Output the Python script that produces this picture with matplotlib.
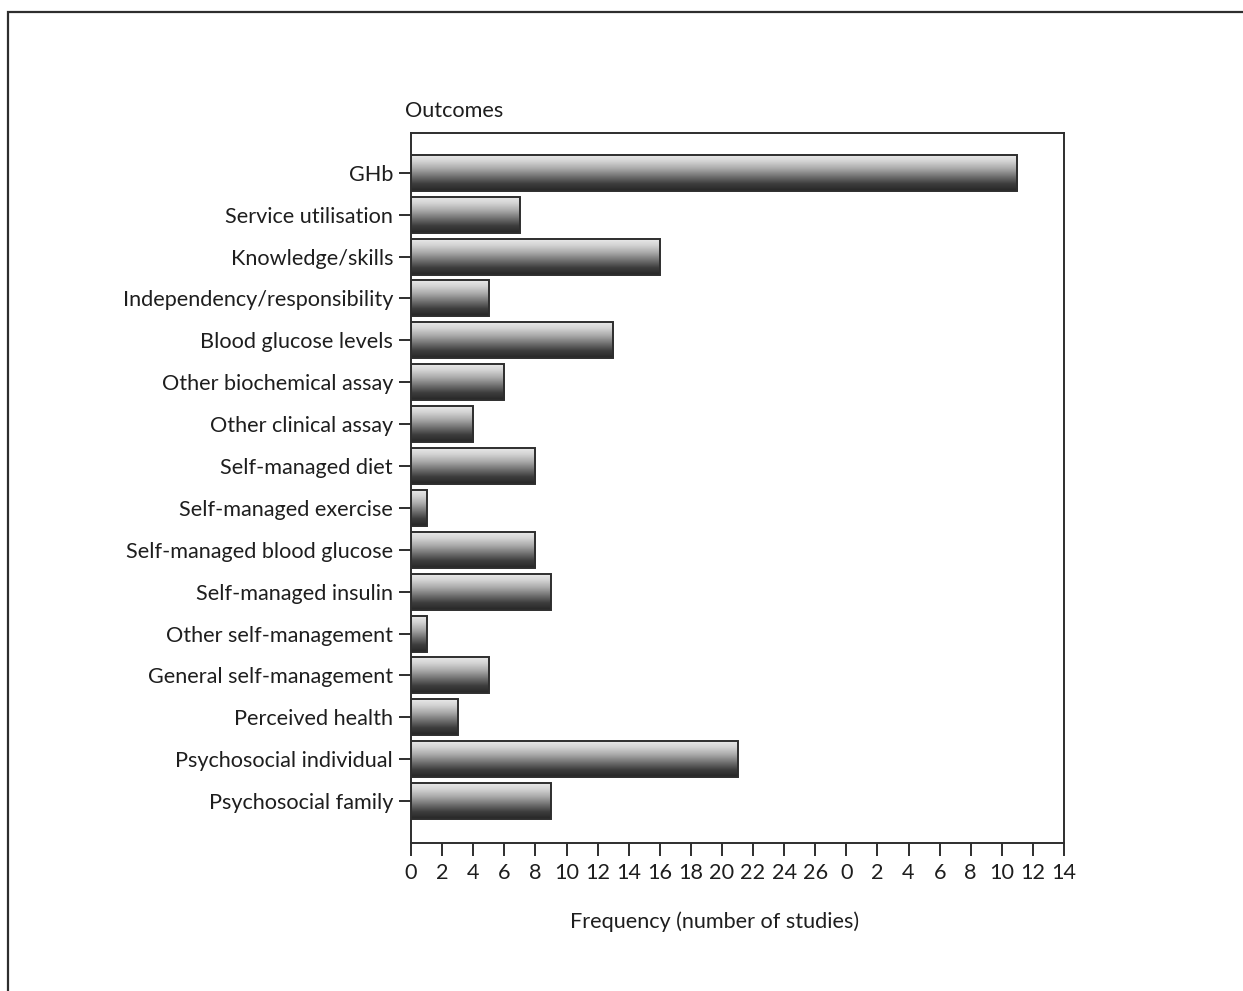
import numpy as np
import matplotlib.pyplot as plt
from matplotlib.colors import LinearSegmentedColormap
from matplotlib.patches import Rectangle

plt.rcParams['font.family'] = ['Lato', 'DejaVu Sans']

outcomes = ['GHb', 'Service utilisation', 'Knowledge/skills',
            'Independency/responsibility', 'Blood glucose levels',
            'Other biochemical assay', 'Other clinical assay',
            'Self-managed diet', 'Self-managed exercise',
            'Self-managed blood glucose', 'Self-managed insulin',
            'Other self-management', 'General self-management',
            'Perceived health', 'Psychosocial individual',
            'Psychosocial family']
n_studies = [39, 7, 16, 5, 13, 6, 4, 8, 1, 8, 9, 1, 5, 3, 21, 9]

# the frequency scale runs 0-26 and then restarts 0-14
tick_pos = list(range(0, 43, 2))
tick_labels = [str(v) for v in range(0, 27, 2)] + [str(v) for v in range(0, 15, 2)]

ink = '#2e2e2e'
txt = '#1e1e1e'
fs = 15.6
shade = LinearSegmentedColormap.from_list(
    'shade', ['#ededed', '#d2d2d2', '#a8a8a8', '#727272', '#3e3e3e', '#262626'])

fig = plt.figure(figsize=(12.43, 9.91), dpi=100)
ax = fig.add_axes([0.3307, 0.1493, 0.5253, 0.7165])

y = np.arange(len(outcomes))
bars = ax.barh(y, n_studies, height=0.86, color='none', edgecolor=ink,
               linewidth=1.4, zorder=3)

# vertical light-to-dark fill inside every bar
grad = np.linspace(0, 1, 256).reshape(-1, 1)
for b in bars:
    x0, y0 = b.get_x(), b.get_y()
    w, h = b.get_width(), b.get_height()
    ax.imshow(grad, cmap=shade, aspect='auto', origin='upper',
              extent=(x0, x0 + w, y0 + h, y0), zorder=2, interpolation='bilinear')

ax.set_xlim(0, 42)
ax.set_ylim(len(outcomes) - 1 + 1.0, -0.95)

ax.set_yticks(y)
ax.set_yticklabels(outcomes, fontsize=fs, color=txt)
ax.set_xticks(tick_pos)
ax.set_xticklabels(tick_labels, fontsize=fs, color=txt)
ax.tick_params(axis='y', direction='out', length=9, width=1.4, color=ink, pad=4)
ax.tick_params(axis='x', direction='out', length=9.5, width=1.4, color=ink, pad=5)
for s in ax.spines.values():
    s.set_color(ink)
    s.set_linewidth(1.4)

fig.text(405 / 1243, 1 - 117 / 991, 'Outcomes', fontsize=fs, color=txt,
         ha='left', va='baseline')
fig.text(715 / 1243, 1 - 922 / 991, 'Frequency (number of studies)', fontsize=fs,
         color=txt, ha='center', va='center')

# outer frame, running off the right and bottom edges
fig.patches.append(Rectangle((8 / 1243, -0.1), 1.2, 1.1 - 12 / 991,
                             transform=fig.transFigure, fill=False,
                             edgecolor=ink, linewidth=1.6))

fig.savefig('out.png', dpi=100)
